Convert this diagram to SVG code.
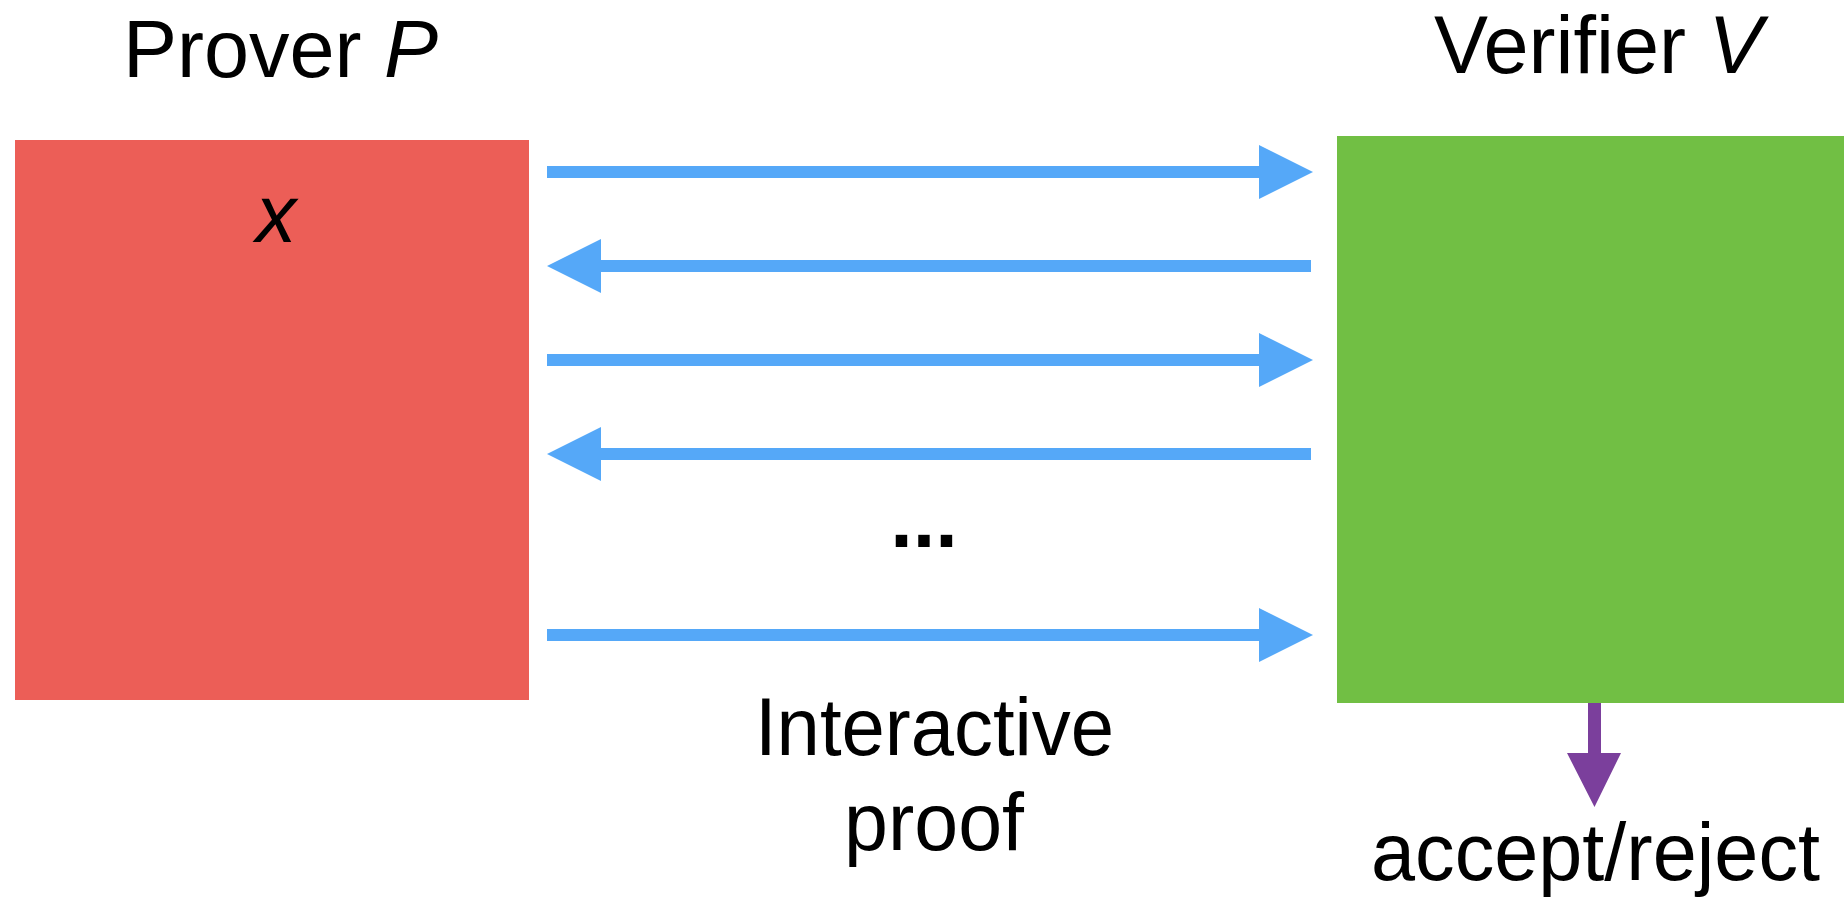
<svg xmlns="http://www.w3.org/2000/svg" width="1844" height="897" viewBox="0 0 1844 897">
  <style>
    .lbl { font-family: "Liberation Sans", Arial, sans-serif; font-size: 81px; fill: #000; }
    .it { font-style: italic; }
    .msg { fill: #55A8F8; }
    .out { fill: #7B3F9C; }
  </style>
  <rect width="1844" height="897" fill="#fff"/>

  <!-- Prover node -->
  <g id="prover">
    <rect x="15" y="140" width="514" height="560" fill="#EC5E57"/>
    <text class="lbl" x="123" y="77">Prover <tspan class="it">P</tspan></text>
    <text class="lbl it" x="276" y="242" text-anchor="middle">x</text>
  </g>

  <!-- Verifier node -->
  <g id="verifier">
    <rect x="1337" y="136" width="507" height="567" fill="#71BF44"/>
    <text class="lbl" x="1434" y="73">Verifier <tspan class="it">V</tspan></text>
  </g>

  <!-- Message arrows between prover and verifier, plus verifier output -->
  <g id="connectors">
    <!-- P to V -->
    <path class="msg" d="M547 166 H1259 V145 L1313 172 L1259 199 V178 H547 Z"/>
    <!-- V to P -->
    <path class="msg" d="M1311 260 H601 V239 L547 266 L601 293 V272 H1311 Z"/>
    <!-- P to V -->
    <path class="msg" d="M547 354 H1259 V333 L1313 360 L1259 387 V366 H547 Z"/>
    <!-- V to P -->
    <path class="msg" d="M1311 448 H601 V427 L547 454 L601 481 V460 H1311 Z"/>
    <!-- final P to V -->
    <path class="msg" d="M547 629 H1259 V608 L1313 635 L1259 662 V641 H547 Z"/>
    <!-- verdict -->
    <path class="out" d="M1588 703 H1601 V753 H1621 L1594.5 807 L1567 753 H1588 Z"/>
  </g>

  <g id="labels">
    <text class="lbl" x="924" y="547" text-anchor="middle" style="font-weight:bold">...</text>
    <text class="lbl" x="755" y="755" textLength="359" lengthAdjust="spacingAndGlyphs">Interactive</text>
    <text class="lbl" x="844" y="850" textLength="180" lengthAdjust="spacingAndGlyphs">proof</text>
    <text class="lbl" x="1371" y="880" textLength="449" lengthAdjust="spacingAndGlyphs">accept/reject</text>
  </g>
</svg>
